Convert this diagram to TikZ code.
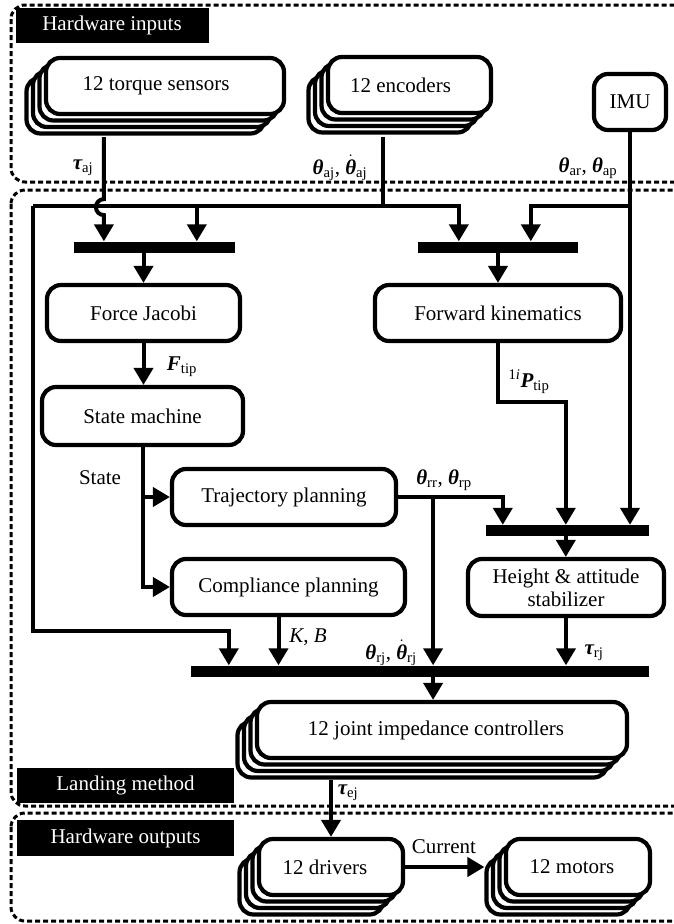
\documentclass[tikz,border=0pt]{standalone}
\usepackage{fontspec}
\setmainfont{Liberation Serif}
\usetikzlibrary{arrows.meta,shadows}

\newcommand{\bsym}[2]{{\bfseries\itshape #1}\textsubscript{#2}}
\newcommand{\bdot}[2]{$\dot{\mbox{\bfseries\itshape #1}}$\textsubscript{#2}}

\tikzset{
  blk/.style={draw,fill=white,line width=4.2pt,rounded corners=14pt,inner sep=0pt,align=center},
  stk/.style={blk,
    copy shadow={shadow xshift=-19.5pt,shadow yshift=-19.5pt,draw=black,fill=white},
    copy shadow={shadow xshift=-13pt,shadow yshift=-13pt,draw=black,fill=white},
    copy shadow={shadow xshift=-6.5pt,shadow yshift=-6.5pt,draw=black,fill=white}},
  bar/.style={fill=black,minimum height=11pt,inner sep=0pt},
  tag/.style={fill=black,text=white,inner sep=0pt},
  region/.style={line width=3pt,dash pattern=on 5pt off 3pt,rounded corners=14pt},
  wire/.style={line width=4pt},
  arr/.style={wire,-{Triangle[width=19pt,length=17pt]}},
  lbl/.style={inner sep=0pt}
}

\begin{document}
\begin{tikzpicture}[x=1pt,y=-1pt,font=\fontsize{21}{23}\selectfont]
  \useasboundingbox (0,0) rectangle (673,924);

  % regions
  \draw[region] (11,5) rectangle (690,182);
  \draw[region] (11,190) rectangle (690,806);
  \draw[region] (11,813) rectangle (690,921);
  \node[tag,minimum width=193pt,minimum height=35pt] (hwin) at (112,25.5) {Hardware inputs};
  \node[tag,minimum width=217pt,minimum height=35pt] (land) at (125.5,785.5) {Landing method};
  \node[tag,minimum width=217pt,minimum height=36pt] (hwout) at (125.5,838) {Hardware outputs};

  % hardware inputs
  \node[stk,minimum width=238pt,minimum height=56pt] (torque) at (165,86) {\hspace*{-18pt}12 torque sensors};
  \node[stk,minimum width=163pt,minimum height=56pt] (enc) at (409.5,85) {\hspace*{-18pt}12 encoders};
  \node[blk,minimum width=72pt,minimum height=56pt] (imu) at (630,102) {IMU};

  % bars
  \node[bar,minimum width=161pt] (bar1) at (154.5,247) {};
  \node[bar,minimum width=160pt] (bar2) at (498,247) {};
  \node[bar,minimum width=163pt] (bar3) at (567.5,530.5) {};
  \node[bar,minimum width=458pt] (bar4) at (420,671) {};

  % landing method
  \node[blk,minimum width=193pt,minimum height=56pt] (fj) at (143.5,313) {Force Jacobi};
  \node[blk,minimum width=246pt,minimum height=56pt] (fk) at (498,313) {Forward kinematics};
  \node[blk,minimum width=201pt,minimum height=58pt] (sm) at (142.5,416) {State machine};
  \node[blk,minimum width=224pt,minimum height=56pt] (tp) at (284,497) {Trajectory planning};
  \node[blk,minimum width=233pt,minimum height=56pt] (cp) at (288.5,587) {Compliance planning};
  \node[blk,minimum width=196pt,minimum height=57pt] (has) at (566,587.5) {Height \& attitude\\stabilizer};
  \node[stk,minimum width=370pt,minimum height=56pt] (jic) at (442,730) {\hspace*{-12pt}12 joint impedance controllers};

  % hardware outputs
  \node[stk,minimum width=144pt,minimum height=56pt] (drv) at (331,867) {\hspace*{-12pt}12 drivers};
  \node[stk,minimum width=144pt,minimum height=56pt] (mot) at (578,867) {\hspace*{-12pt}12 motors};

  % junctions
  \coordinate (bl) at (33,206);
  \coordinate (t0) at ([xshift=60pt,yshift=-21pt]torque.south west);
  \coordinate (e0) at ([xshift=-26.5pt,yshift=-22pt]enc.south);
  \coordinate (b1b) at ([xshift=123pt]bar1.north west);
  \coordinate (b2a) at ([xshift=41pt]bar2.north west);
  \coordinate (b2b) at ([xshift=113pt]bar2.north west);
  \coordinate (b3a) at ([xshift=17pt]bar3.north west);
  \coordinate (b3b) at ([xshift=80pt]bar3.north west);
  \coordinate (b4a) at ([xshift=38pt]bar4.north west);
  \coordinate (tj) at ([xshift=35pt]tp.east);
  \coordinate (c0) at ([xshift=-10pt]cp.south);
  \coordinate (j0) at ([yshift=-20pt]jic.south);

  % connectors
  \draw[arr] (t0) -- ++(0,62) arc[start angle=90,end angle=270,radius=8pt] -- (t0 |- bar1.north);
  \draw[wire] (e0) -- (e0 |- bl);
  \draw[arr] (bl) -| (b2a);
  \draw[arr] (bl) -- ++(0,425) -| (b4a);
  \draw[arr] (b1b |- bl) -- (b1b);
  \draw[arr] (imu.south) -- (imu.south |- bar3.north);
  \draw[arr] (imu.south |- bl) -| (b2b);
  \draw[arr] (bar1.south -| fj.north) -- (fj.north);
  \draw[arr] (bar2.south -| fk.north) -- (fk.north);
  \draw[arr] (fj.south) -- (fj.south |- sm.north);
  \draw[arr] (sm.south) |- (cp.west);
  \draw[arr] (sm.south |- tp.west) -- (tp.west);
  \draw[arr] (tp.east) -| (b3a);
  \draw[arr] (tj) -- (tj |- bar4.north);
  \draw[arr] (fk.south) -- ++(0,59) -| (b3b);
  \draw[arr] (b3b |- bar3.south) -- (b3b |- has.north);
  \draw[arr] (has.south) -- (has.south |- bar4.north);
  \draw[arr] (c0) -- (c0 |- bar4.north);
  \draw[arr] (tj |- bar4.south) -- (tj |- jic.north);
  \draw[arr] (drv.north |- j0) -- (drv.north);
  \draw[arr] (drv.east) -- ([xshift=-19.5pt]mot.west);

  % labels
  \node[lbl] (ltaj) at (83,168) {\bsym{τ}{aj}};
  \node[lbl] (laj) at (340,168) {\bsym{θ}{aj}, \bdot{θ}{aj}};
  \node[lbl] (lap) at (588,168) {\bsym{θ}{ar}, \bsym{θ}{ap}};
  \node[lbl] (lftip) at (182,367) {\bsym{F}{tip}};
  \node[lbl] (lptip) at (529,382) {\textsuperscript{1\textit{i}}\bsym{P}{tip}};
  \node[lbl] (lstate) at (100,478) {State};
  \node[lbl] (lrp) at (444,480) {\bsym{θ}{rr}, \bsym{θ}{rp}};
  \node[lbl] (lkb) at (308,637) {\textit{K}, \textit{B}};
  \node[lbl] (lrj) at (391,653) {\bsym{θ}{rj}, \bdot{θ}{rj}};
  \node[lbl] (ltrj) at (594,653) {\bsym{τ}{rj}};
  \node[lbl] (ltej) at (348,793) {\bsym{τ}{ej}};
  \node[lbl] (lcur) at (444,847) {Current};
\end{tikzpicture}
\end{document}
